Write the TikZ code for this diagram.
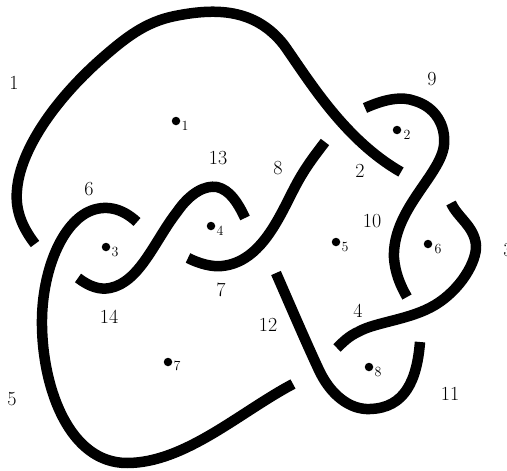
\documentclass[tikz,border=0pt]{standalone}
\begin{document}
\begin{tikzpicture}[x=1pt,y=-1pt,
  strand/.style={line width=10.5pt,line cap=butt,line join=round,black},
  arclabel/.style={inner sep=0pt,font=\fontsize{20}{24}\selectfont},
  dotmark/.style={circle,fill=black,inner sep=0pt,minimum size=8.5pt},
  sublabel/.style={inner sep=0pt,font=\fontsize{14}{16}\selectfont}]
\useasboundingbox (0,0) rectangle (507,471);
\clip (0,0) rectangle (507,471);
% strands
\draw[strand] (35,244) .. controls (22,227) and (15,210) .. (17,190)
  .. controls (20,150) and (55,100) .. (100,60)
  .. controls (125,38) and (145,22) .. (175,16)
  .. controls (215,8) and (255,8) .. (284,45)
  .. controls (310,82) and (345,140) .. (401,172);
\draw[strand] (137,222) .. controls (122,208) and (105,204) .. (88,212)
  .. controls (60,226) and (41,275) .. (42,326)
  .. controls (43,390) and (70,463) .. (127,463)
  .. controls (185,463) and (240,412) .. (293,384);
\draw[strand] (78,278) .. controls (90,287) and (100,290) .. (110,288)
  .. controls (140,282) and (155,240) .. (177,212)
  .. controls (190,193) and (205,185) .. (217,187)
  .. controls (230,190) and (238,203) .. (245,218);
\draw[strand] (188,258) .. controls (200,264) and (212,267) .. (222,266)
  .. controls (262,262) and (280,215) .. (296,185)
  .. controls (305,168) and (315,155) .. (325,142);
\draw[strand] (365,108) .. controls (385,99) and (402,96) .. (415,101)
  .. controls (435,107) and (446,125) .. (444,145)
  .. controls (441,175) and (392,210) .. (394,258)
  .. controls (395,272) and (400,285) .. (407,297);
\draw[strand] (451,203) .. controls (458,218) and (474,226) .. (476,245)
  .. controls (477,262) and (460,290) .. (435,305)
  .. controls (410,320) and (375,322) .. (358,332)
  .. controls (349,336) and (343,342) .. (337,348);
\draw[strand] (276,273) .. controls (290,305) and (305,340) .. (318,368)
  .. controls (330,395) and (350,410) .. (370,409)
  .. controls (405,408) and (417,380) .. (420,342);
% arc labels
\node[arclabel] (a1) at (14,83) {1};
\node[arclabel] (a2) at (360,171) {2};
\node[arclabel] (a3) at (508,250) {3};
\node[arclabel] (a4) at (358,311) {4};
\node[arclabel] (a5) at (12,399) {5};
\node[arclabel] (a6) at (89,189) {6};
\node[arclabel] (a7) at (221,290) {7};
\node[arclabel] (a8) at (278,168) {8};
\node[arclabel] (a9) at (432,79) {9};
\node[arclabel] (a10) at (372,221) {10};
\node[arclabel] (a11) at (450,394) {11};
\node[arclabel] (a12) at (268,325) {12};
\node[arclabel] (a13) at (218,158) {13};
\node[arclabel] (a14) at (109,317) {14};
% region dots
\node[dotmark] (d1) at (176,121) {};
\node[dotmark] (d2) at (397,130) {};
\node[dotmark] (d3) at (106,247) {};
\node[dotmark] (d4) at (211,226) {};
\node[dotmark] (d5) at (336,242) {};
\node[dotmark] (d6) at (428,244) {};
\node[dotmark] (d7) at (168,362) {};
\node[dotmark] (d8) at (369,367) {};
\node[sublabel] (s1) at (185,126) {1};
\node[sublabel] (s2) at (407,135) {2};
\node[sublabel] (s3) at (115,252) {3};
\node[sublabel] (s4) at (220,231) {4};
\node[sublabel] (s5) at (345,247) {5};
\node[sublabel] (s6) at (438,249) {6};
\node[sublabel] (s7) at (177,366) {7};
\node[sublabel] (s8) at (378,372) {8};
\end{tikzpicture}
\end{document}
